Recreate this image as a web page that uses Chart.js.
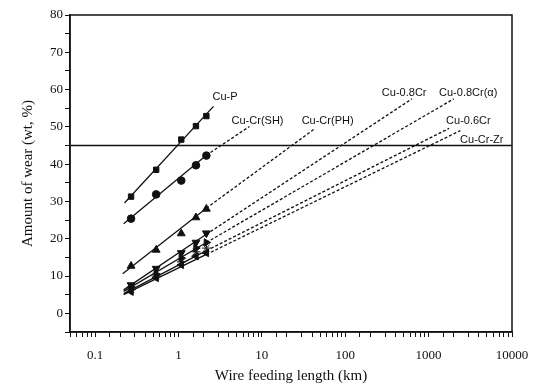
<!DOCTYPE html>
<html>
<head>
<meta charset="utf-8">
<script src="https://cdn.jsdelivr.net/npm/chart.js@4/dist/chart.umd.min.js"></script>
<style>
    html, body { margin: 0; padding: 0; background: #fff; }
</style>
</head>
<body>
<canvas id="wearChart" width="547" height="385"></canvas>
<script>
// wire feeding length (km) where wear was measured
const feedLengths = [0.27, 0.54, 1.08, 1.62, 2.16];

// amount of wear (wt, %)
const wearCuP = [31.3, 38.5, 46.6, 50.2, 52.9];
const wearCuCrSH = [25.4, 31.9, 35.6, 39.7, 42.3];
const wearCuCrPH = [12.7, 17.0, 21.4, 25.7, 28.0];
const wearCu08Cr = [7.6, 12.0, 16.2, 19.0, 21.5];
const wearCu08CrA = [7.0, 10.5, 14.8, 17.5, 19.0];
const wearCu06Cr = [6.3, 10.0, 13.8, 16.5, 17.5];
const wearCuCrZr = [5.8, 9.5, 13.0, 15.3, 16.2];

// fitted lines [km, wt%]: start, end of measured range, end of extrapolation
const fitCuP = [[0.225, 29.6], [2.63, 55.5]];
const fitCuCrSH = [[0.22, 24.0], [2.16, 42.4], [7.1, 50.1]];
const fitCuCrPH = [[0.214, 10.6], [2.16, 28.2], [43, 49.5]];
const fitCu08Cr = [[0.22, 6.3], [2.16, 21.2], [630, 57.5]];
const fitCu08CrA = [[0.22, 5.9], [2.16, 19.0], [2000, 57.5]];
const fitCu06Cr = [[0.22, 5.3], [2.16, 16.8], [1760, 49.6]];
const fitCuCrZr = [[0.22, 5.0], [2.16, 15.8], [2400, 49.0]];

// wear limit
const limitLine = [[0.05, 45], [10000, 45]];

// curve labels [text, km, wt%]
const curveLabels = [
    ["Cu-P", 2.56, 58.0],
    ["Cu-Cr(SH)", 4.33, 51.5],
    ["Cu-Cr(PH)", 30, 51.5],
    ["Cu-0.8Cr", 275, 59.0],
    ["Cu-0.8Cr(\u03b1)", 1334, 59.0],
    ["Cu-0.6Cr", 1620, 51.7],
    ["Cu-Cr-Zr", 2385, 46.6],
];

const INK = "#111";

function toPoints(xs, ys) {
    return xs.map((x, i) => ({ x: x, y: ys[i] }));
}

function pairPoints(pairs) {
    return pairs.map((p) => ({ x: p[0], y: p[1] }));
}

function markerSet(ys, style, radius, rotation) {
    return {
        type: "scatter",
        data: toPoints(feedLengths, ys),
        pointStyle: style,
        pointRadius: radius,
        pointRotation: rotation || 0,
        backgroundColor: INK,
        borderColor: INK,
        borderWidth: 1,
        showLine: false,
    };
}

function fitSet(pairs) {
    return {
        type: "line",
        data: pairPoints(pairs),
        borderColor: INK,
        borderWidth: 1.3,
        pointRadius: 0,
        fill: false,
        tension: 0,
        segment: {
            // beyond the measured range the line is an extrapolation
            borderDash: (ctx) => (ctx.p0DataIndex >= 1 ? [3, 2] : undefined),
        },
    };
}

const frameAndLabels = {
    id: "frameAndLabels",
    afterDatasetsDraw(chart) {
        const { ctx, chartArea, scales } = chart;
        ctx.save();
        ctx.strokeStyle = INK;
        ctx.lineWidth = 1.5;
        ctx.strokeRect(chartArea.left, chartArea.top, chartArea.right - chartArea.left, chartArea.bottom - chartArea.top);

        ctx.beginPath();
        ctx.rect(chartArea.left, chartArea.top, chartArea.right - chartArea.left - 1, chartArea.bottom - chartArea.top);
        ctx.clip();
        ctx.fillStyle = INK;
        ctx.font = "11px 'Liberation Sans', Arial, sans-serif";
        ctx.textBaseline = "middle";
        ctx.textAlign = "left";
        curveLabels.forEach((l) => {
            ctx.fillText(l[0], scales.x.getPixelForValue(l[1]), scales.y.getPixelForValue(l[2]));
        });
        ctx.restore();
    },
};

new Chart(document.getElementById("wearChart"), {
    data: {
        datasets: [
            fitSet(fitCuP),
            fitSet(fitCuCrSH),
            fitSet(fitCuCrPH),
            fitSet(fitCu08Cr),
            fitSet(fitCu08CrA),
            fitSet(fitCu06Cr),
            fitSet(fitCuCrZr),
            {
                type: "line",
                data: pairPoints(limitLine),
                borderColor: INK,
                borderWidth: 1.5,
                pointRadius: 0,
            },
            markerSet(wearCuP, "rect", 3.8),
            markerSet(wearCuCrSH, "circle", 3.8),
            markerSet(wearCuCrPH, "triangle", 4.5),
            markerSet(wearCu08Cr, "triangle", 4.5, 180),
            markerSet(wearCu08CrA, "triangle", 4.3, 90),
            markerSet(wearCu06Cr, "star", 4.5),
            markerSet(wearCuCrZr, "triangle", 4.3, 270),
        ],
    },
    options: {
        responsive: false,
        devicePixelRatio: 1,
        animation: false,
        layout: { padding: { left: 0, right: 35, top: 15, bottom: 0 } },
        plugins: {
            legend: { display: false },
            tooltip: { enabled: false },
        },
        scales: {
            x: {
                type: "logarithmic",
                min: 0.05,
                max: 10000,
                afterFit: (scale) => { scale.height = 53; },
                border: { display: true, color: INK, width: 1.5 },
                grid: { drawOnChartArea: false, drawTicks: true, tickLength: 5, color: INK },
                ticks: {
                    autoSkip: false,
                    maxRotation: 0,
                    minRotation: 0,
                    padding: 11,
                    color: INK,
                    font: { family: "'Liberation Serif', 'DejaVu Serif', serif", size: 13 },
                    callback: function (value) {
                        const l = Math.log10(value);
                        return Math.abs(l - Math.round(l)) < 1e-6 ? String(value) : "";
                    },
                },
                title: {
                    display: true,
                    text: "Wire feeding length (km)",
                    color: INK,
                    font: { family: "'Liberation Serif', 'DejaVu Serif', serif", size: 15 },
                    padding: { top: 0, bottom: 0 },
                },
            },
            y: {
                min: -5,
                max: 80,
                afterFit: (scale) => { scale.width = 70; },
                border: { display: true, color: INK, width: 1.5 },
                grid: { drawOnChartArea: false, drawTicks: true, tickLength: 5, color: INK },
                ticks: {
                    stepSize: 5,
                    padding: 2,
                    color: INK,
                    font: { family: "'Liberation Serif', 'DejaVu Serif', serif", size: 13 },
                    callback: (v) => (v >= 0 && v % 10 === 0 ? v : ""),
                },
                title: {
                    display: true,
                    text: "Amount of wear (wt, %)",
                    color: INK,
                    font: { family: "'Liberation Serif', 'DejaVu Serif', serif", size: 15 },
                    padding: { top: 19, bottom: 0 },
                },
            },
        },
    },
    plugins: [frameAndLabels],
});
</script>
</body>
</html>
